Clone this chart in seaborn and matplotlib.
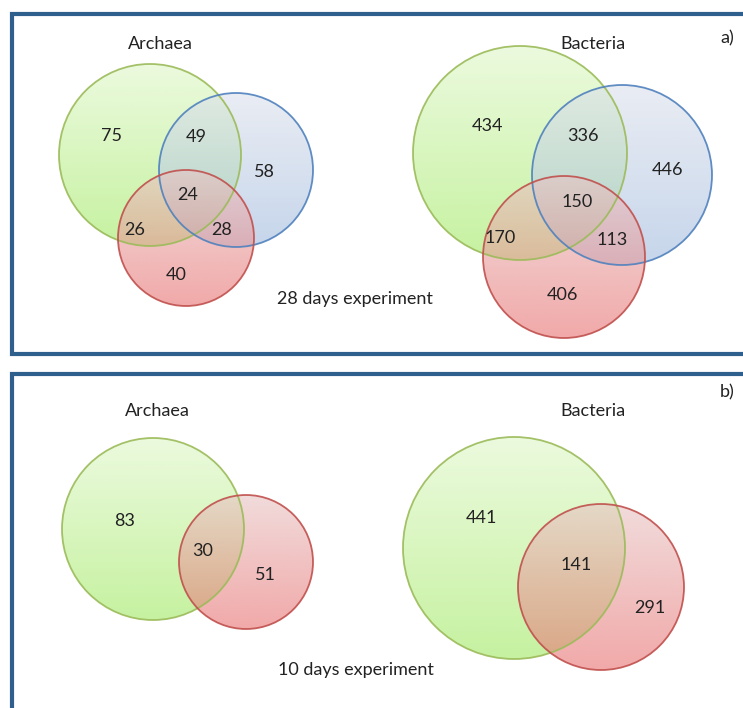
import numpy as np
import matplotlib
matplotlib.use("Agg")
import matplotlib.pyplot as plt
from matplotlib.patches import Circle
import seaborn as sns

sns.set_theme(style="white")
plt.rcParams['font.family'] = ['Lato', 'DejaVu Sans']

# ---- data ----
archaea_28_counts = [75, 49, 58, 24, 26, 28, 40]
bacteria_28_counts = [434, 336, 446, 150, 170, 113, 406]
archaea_10_counts = [83, 30, 51]
bacteria_10_counts = [441, 141, 291]
group_titles = ["Archaea", "Bacteria"]
panel_tags = ["a)", "b)"]
experiment_labels = ["28 days experiment", "10 days experiment"]

# ---- layout (pixel coordinates, y down) ----
W, H = 743, 708
fig = plt.figure(figsize=(W / 100, H / 100), dpi=100)
ax = fig.add_axes([0, 0, 1, 1])
ax.set_xlim(0, W)
ax.set_ylim(H, 0)
ax.axis("off")

GREEN = dict(top=(223, 247, 200), bot=(160, 233, 97), edge="#9bbb59")
BLUE = dict(top=(220, 225, 236), bot=(160, 186, 222), edge="#4f81bd")
RED = dict(top=(232, 196, 196), bot=(232, 112, 112), edge="#c0504d")
ALPHA = 0.6

def gradient_circle(cx, cy, r, style):
    circ = Circle((cx, cy), r, transform=ax.transData, facecolor="none", edgecolor="none")
    ax.add_patch(circ)
    n = 200
    t = np.linspace(0, 1, n)[:, None]
    top = np.array(style["top"]) / 255.0
    bot = np.array(style["bot"]) / 255.0
    col = top[None, :] * (1 - t) + bot[None, :] * t
    img = np.ones((n, 2, 4))
    img[:, :, :3] = col[:, None, :]
    img[:, :, 3] = ALPHA
    im = ax.imshow(img, extent=(cx - r, cx + r, cy + r, cy - r), origin="upper",
                   interpolation="bilinear", zorder=1)
    im.set_clip_path(circ)
    return (cx, cy, r, style["edge"])

def edges(circles):
    for cx, cy, r, ec in circles:
        ax.add_patch(Circle((cx, cy), r, facecolor="none", edgecolor=ec,
                            lw=1.3, alpha=0.9, zorder=3))

def labels(values, positions):
    for v, (x, y) in zip(values, positions):
        ax.text(x, y, str(v), ha="center", va="center", fontsize=13,
                color="#222222", zorder=4)

# Panel a) Archaea
cs = [gradient_circle(150, 155, 91, GREEN),
      gradient_circle(236, 170, 77, BLUE),
      gradient_circle(186, 238, 68, RED)]
edges(cs)
labels(archaea_28_counts, [(111, 136), (196, 137), (264, 172), (188, 195),
                           (135, 230), (222, 230), (176, 275)])
# Panel a) Bacteria
cs = [gradient_circle(520, 153, 107, GREEN),
      gradient_circle(622, 175, 90, BLUE),
      gradient_circle(564, 257, 81, RED)]
edges(cs)
labels(bacteria_28_counts, [(488, 126), (583, 136), (667, 170), (577, 202),
                            (500, 238), (612, 240), (562, 295)])
# Panel b) Archaea
cs = [gradient_circle(153, 529, 91, GREEN),
      gradient_circle(246, 562, 67, RED)]
edges(cs)
labels(archaea_10_counts, [(125, 521), (203, 551), (265, 575)])
# Panel b) Bacteria
cs = [gradient_circle(514, 548, 111, GREEN),
      gradient_circle(601, 587, 83, RED)]
edges(cs)
labels(bacteria_10_counts, [(481, 518), (576, 565), (650, 608)])

# titles
for (tx, ty) in [(160, 44), (157, 411)]:
    ax.text(tx, ty, group_titles[0], ha="center", va="center", fontsize=13, color="#222222")
for (tx, ty) in [(593, 44), (593, 411)]:
    ax.text(tx, ty, group_titles[1], ha="center", va="center", fontsize=13, color="#222222")
ax.text(727, 38, panel_tags[0], ha="center", va="center", fontsize=13, color="#222222")
ax.text(727, 392, panel_tags[1], ha="center", va="center", fontsize=13, color="#222222")
ax.text(355, 299, experiment_labels[0], ha="center", va="center", fontsize=13, color="#222222")
ax.text(356, 670, experiment_labels[1], ha="center", va="center", fontsize=13, color="#222222")

# frames
frame_c = "#2f5f8c"
ax.plot([760, 11.5, 11.5, 760], [14, 14, 354, 354], color=frame_c, lw=3, solid_joinstyle="miter", zorder=5)
ax.plot([760, 11.5, 11.5], [374, 374, 720], color=frame_c, lw=3, solid_joinstyle="miter", zorder=5)

fig.savefig("out.png", dpi=100)
